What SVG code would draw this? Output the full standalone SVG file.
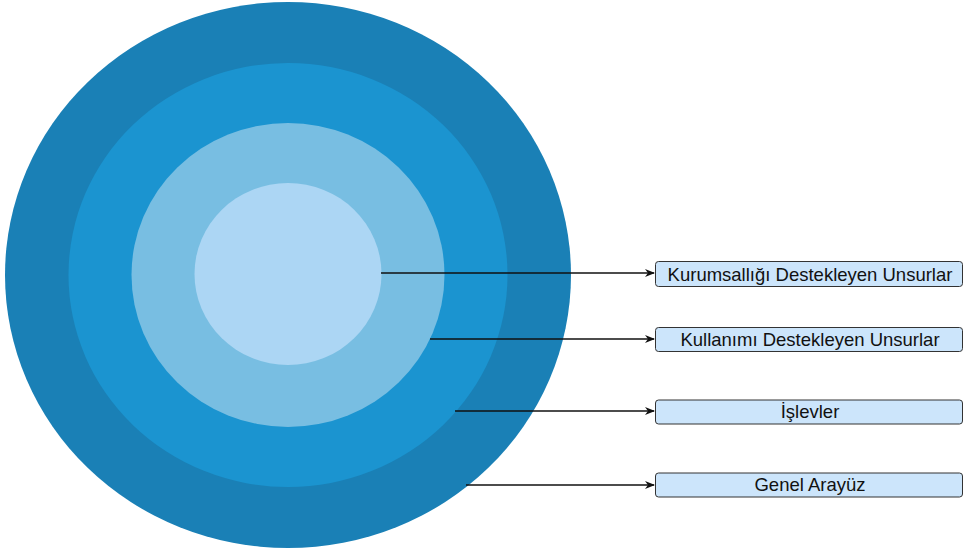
<svg xmlns="http://www.w3.org/2000/svg" width="963" height="550" viewBox="0 0 963 550">
<defs>
<style>
.box{fill:#cce5fb;stroke:#333;stroke-width:1}
.lbl{font-family:"Liberation Sans",Arial,sans-serif;font-size:18.5px;fill:#111;text-anchor:middle}
.con{stroke:#111;stroke-width:1.3;fill:none}
</style>
<marker id="arr" markerWidth="10" markerHeight="8" refX="9" refY="4" orient="auto" markerUnits="userSpaceOnUse">
<path d="M0,0 L10,4 L0,8 L3,4 Z" fill="#111"/>
</marker>
</defs>
<g id="rings">
<ellipse id="ring-outer" cx="288" cy="275" rx="283" ry="273" fill="#1a80b6"/>
<ellipse id="ring-2" cx="288" cy="275" rx="219.5" ry="212" fill="#1b94d0"/>
<ellipse id="ring-3" cx="288" cy="275" rx="156.5" ry="152" fill="#78bee2"/>
<ellipse id="ring-inner" cx="288" cy="274" rx="93.5" ry="91" fill="#acd6f4"/>
</g>
<g id="connectors">
<line class="con" x1="381" y1="273" x2="654" y2="273" marker-end="url(#arr)"/>
<line class="con" x1="430" y1="339" x2="654" y2="339" marker-end="url(#arr)"/>
<line class="con" x1="455" y1="411" x2="654" y2="411" marker-end="url(#arr)"/>
<line class="con" x1="466" y1="485" x2="654" y2="485" marker-end="url(#arr)"/>
</g>
<g id="n1"><rect class="box" x="655.5" y="261.5" width="307" height="25" rx="3"/><text class="lbl" x="810" y="281">Kurumsallığı Destekleyen Unsurlar</text></g>
<g id="n2"><rect class="box" x="655.5" y="327.5" width="307" height="24" rx="3"/><text class="lbl" x="810" y="346">Kullanımı Destekleyen Unsurlar</text></g>
<g id="n3"><rect class="box" x="655.5" y="400" width="307" height="24" rx="3"/><text class="lbl" x="810" y="418">İşlevler</text></g>
<g id="n4"><rect class="box" x="655.5" y="473" width="307" height="24" rx="3"/><text class="lbl" x="810" y="491">Genel Arayüz</text></g>
</svg>
